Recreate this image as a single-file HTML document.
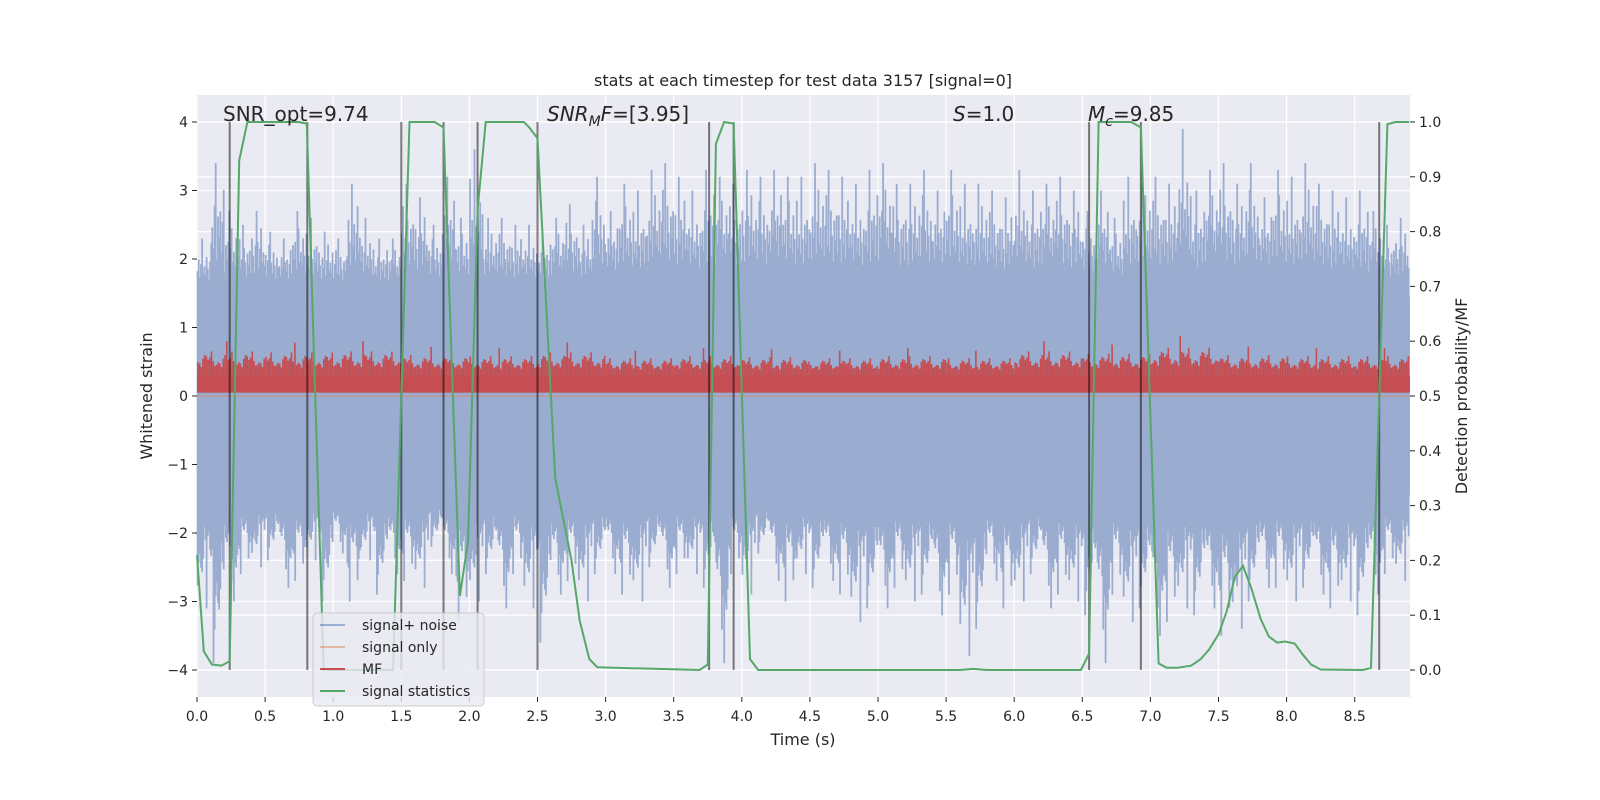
<!DOCTYPE html>
<html><head><meta charset="utf-8"><style>
html,body{margin:0;padding:0;background:#fff;}
svg{display:block;font-family:"DejaVu Sans","Liberation Sans",sans-serif;}
</style></head><body>
<svg id="chart" width="1600" height="800" viewBox="0 0 1600 800" xmlns="http://www.w3.org/2000/svg">
<rect x="0" y="0" width="1600" height="800" fill="#ffffff"/>
<rect x="197" y="95" width="1213" height="602" fill="#eaeaf2"/>
<g id="grid"></g>
<g id="noise"></g>
<g id="mf"></g>
<line id="sigonly" stroke="#dd8452" stroke-opacity="0.5" stroke-width="1.5"/>
<g id="vlines"></g>
<polyline id="stat" fill="none" stroke="#55a868" stroke-width="2"/>
<g id="axes"></g>
<text x="803" y="86" text-anchor="middle" font-size="16" fill="#262626">stats at each timestep for test data 3157 [signal=0]</text>
<text x="223" y="121" font-size="20" fill="#262626">SNR_opt=9.74</text>
<text x="547" y="121" font-size="20" fill="#262626"><tspan font-style="italic">SNR</tspan><tspan font-style="italic" font-size="14" dy="5">M</tspan><tspan font-style="italic" dy="-5">F</tspan>=[3.95]</text>
<text x="953" y="121" font-size="20" fill="#262626"><tspan font-style="italic">S</tspan>=1.0</text>
<text x="1088" y="121" font-size="20" fill="#262626"><tspan font-style="italic">M</tspan><tspan font-style="italic" font-size="14" dy="5">c</tspan><tspan dy="-5">=9.85</tspan></text>
<text x="803" y="745" text-anchor="middle" font-size="16" fill="#262626">Time (s)</text>
<text transform="translate(152,396) rotate(-90)" text-anchor="middle" font-size="16" fill="#262626">Whitened strain</text>
<text transform="translate(1467,396) rotate(-90)" text-anchor="middle" font-size="16" fill="#262626">Detection probability/MF</text>
<g>
<rect x="313" y="613" width="171" height="93" rx="4" fill="#eaeaf2" fill-opacity="0.8" stroke="#cccccc"/>
<line x1="320" y1="625" x2="345" y2="625" stroke="#4c72b0" stroke-opacity="0.5" stroke-width="2"/>
<text x="362" y="630" font-size="14" fill="#262626">signal+ noise</text>
<line x1="320" y1="647" x2="345" y2="647" stroke="#dd8452" stroke-opacity="0.5" stroke-width="2"/>
<text x="362" y="652" font-size="14" fill="#262626">signal only</text>
<line x1="320" y1="669" x2="345" y2="669" stroke="#c44e52" stroke-width="2"/>
<text x="362" y="674" font-size="14" fill="#262626">MF</text>
<line x1="320" y1="691" x2="345" y2="691" stroke="#55a868" stroke-width="2"/>
<text x="362" y="696" font-size="14" fill="#262626">signal statistics</text>
</g>
</svg>
<script>
// ---- data ----
const binStart = 0.0;
const binWidth = 0.1;
const noiseHi = [2.3,3.4,2.7,2.5,2.7,2.4,2.3,2.7,2.6,2.4,2.3,3.1,2.6,2.3,2.3,3.1,2.9,2.5,3.2,2.6,3.6,2.6,2.6,2.5,2.5,2.4,2.6,2.8,2.5,3.2,2.7,3.1,3.0,3.3,3.4,3.2,3.0,3.3,3.2,3.1,3.3,3.2,3.3,3.2,3.2,3.4,3.3,3.2,3.1,3.3,3.4,3.1,3.1,3.3,3.0,3.3,3.1,3.1,3.0,2.9,3.3,3.0,3.1,3.2,3.0,2.7,3.0,2.6,3.2,3.3,3.2,3.1,3.9,3.0,3.3,3.4,3.1,3.4,2.9,3.3,3.2,3.4,3.1,3.0,2.9,3.0,2.7,2.5,2.6];
const noiseLo = [-3.1,-3.9,-3.0,-2.6,-2.5,-2.4,-2.8,-2.7,-2.4,-3.0,-2.3,-3.0,-2.4,-2.9,-2.6,-2.7,-2.8,-2.2,-2.6,-3.3,-3.0,-2.6,-3.1,-2.6,-3.1,-3.6,-2.9,-2.7,-3.0,-2.6,-2.6,-2.9,-3.0,-2.5,-2.8,-2.6,-2.6,-2.8,-3.9,-2.6,-2.9,-2.3,-2.7,-3.0,-2.6,-2.8,-2.7,-2.9,-3.3,-3.1,-3.1,-2.8,-3.0,-2.9,-3.2,-2.9,-3.8,-3.4,-2.7,-3.1,-3.0,-2.6,-3.1,-2.9,-3.0,-3.2,-3.9,-2.9,-3.3,-3.1,-3.5,-3.3,-3.1,-3.2,-3.1,-3.5,-3.4,-3.0,-2.8,-2.8,-3.0,-2.8,-2.9,-3.1,-3.0,-3.2,-2.9,-2.6,-2.7];
const mfBinWidth = 0.5;
const mfPeak = [0.80,0.78,0.80,0.72,0.70,0.78,0.66,0.70,0.68,0.66,0.70,0.66,0.80,0.75,0.88,0.72,0.70,0.70];
const statT = [0,0.05,0.11,0.18,0.24,0.31,0.37,0.745,0.806,0.93,1.44,1.56,1.745,1.81,1.93,1.99,2.06,2.12,2.40,2.44,2.50,2.63,2.75,2.81,2.88,2.94,3.69,3.75,3.81,3.87,3.94,4.06,4.12,5.6,5.7,5.8,6.49,6.55,6.62,6.86,6.93,7.06,7.12,7.2,7.30,7.37,7.43,7.5,7.56,7.62,7.68,7.74,7.81,7.87,7.93,7.99,8.06,8.12,8.18,8.25,8.56,8.62,8.74,8.8,8.9];
const statP = [0.21,0.034,0.01,0.008,0.016,0.93,1.0,1.0,0.997,0.0,0.0,1.0,1.0,0.99,0.135,0.235,0.84,1.0,1.0,0.99,0.97,0.35,0.2,0.09,0.02,0.005,0.0,0.01,0.96,1.0,0.997,0.02,0.0,0.0,0.002,0.0,0.0,0.03,1.0,1.0,0.99,0.012,0.004,0.004,0.008,0.02,0.037,0.065,0.107,0.17,0.19,0.15,0.093,0.061,0.05,0.052,0.048,0.028,0.01,0.001,0.0,0.004,0.996,1.0,1.0];
const eventT = [0.24,0.81,1.50,1.81,2.06,2.50,3.76,3.94,6.55,6.93,8.68];
const xTicks = [0,0.5,1,1.5,2,2.5,3,3.5,4,4.5,5,5.5,6,6.5,7,7.5,8,8.5];
const xTickLabels = ["0.0","0.5","1.0","1.5","2.0","2.5","3.0","3.5","4.0","4.5","5.0","5.5","6.0","6.5","7.0","7.5","8.0","8.5"];
const yTicks = [-4,-3,-2,-1,0,1,2,3,4];
const yTickLabels = ["\u22124","\u22123","\u22122","\u22121","0","1","2","3","4"];
const y2Ticks = [0,0.1,0.2,0.3,0.4,0.5,0.6,0.7,0.8,0.9,1.0];
const y2TickLabels = ["0.0","0.1","0.2","0.3","0.4","0.5","0.6","0.7","0.8","0.9","1.0"];

// ---- scales ----
const L=197,R=1410,T=95,B=697;
const X = t => 197 + t*136.2;
const Y = v => 396 - v*68.5;
const Y2 = p => 670 - p*548;
const NS="http://www.w3.org/2000/svg";
function mk(tag, parent, attrs){const e=document.createElementNS(NS,tag);for(const k in attrs)e.setAttribute(k,attrs[k]);parent.appendChild(e);return e;}

// grid
const grid=document.getElementById('grid');
xTicks.forEach(t=>{const g=mk('line',grid,{x1:X(t),x2:X(t),y1:T,y2:B,stroke:'#fff','stroke-width':1.2});

});
yTicks.forEach(v=>{const g=mk('line',grid,{x1:L,x2:R,y1:Y(v),y2:Y(v),stroke:'#fff','stroke-width':1.2});

});
y2Ticks.forEach(p=>{const g=mk('line',grid,{x1:L,x2:R,y1:Y2(p),y2:Y2(p),stroke:'#fff','stroke-width':1.2});

});

// noise
const noise=document.getElementById('noise');
const pat=[0.55,0.8,0.4,0.7,1.0,0.5,0.65,0.45,0.85,0.6,0.35,0.75];
const core=1.45;
const band=mk('rect',noise,{x:L,y:Y(core),width:R-L,height:Y(-core)-Y(core),fill:'#9aacd0'});


let d='';
noiseHi.forEach((hi,i)=>{
  const t0=binStart+i*binWidth, lo=noiseLo[i];
  const n=pat.length;
  for(let k=0;k<n;k++){
    const t=t0+binWidth*(k+0.5)/n; if(X(t)>R) continue;
    const f=pat[(k+i*5)%n], g=pat[(k*7+i*3+4)%n];
    const h=(k===4)?hi:core+(hi-core)*f*0.8;
    const l=(k===(i%2?2:8))?lo:-core+(lo+core)*g*0.8;
    d+=`M${X(t).toFixed(1)} ${Y(h).toFixed(1)}V${Y(l).toFixed(1)}`;
  }
});
const np=mk('path',noise,{d:d,stroke:'#9aacd0','stroke-width':1.8,fill:'none'});



// MF (left-axis units)
const mf=document.getElementById('mf');
const mfBase=0.05, mfCore=0.3;
const mfr=mk('rect',mf,{x:L,y:Y(mfCore),width:R-L,height:Y(mfBase)-Y(mfCore),fill:'#c44e52'});


let md='';
mfPeak.forEach((pk,i)=>{
  const n=40;
  for(let k=0;k<n;k++){
    const t=i*mfBinWidth+mfBinWidth*(k+0.5)/n; if(X(t)>R) continue;
    const f=pat[(k*5+i)%pat.length];
    const h=(k===17)?pk:mfCore+(pk-mfCore)*f*0.7;
    md+=`M${X(t).toFixed(1)} ${Y(h).toFixed(1)}V${Y(mfBase).toFixed(1)}`;
  }
});
const mp=mk('path',mf,{d:md,stroke:'#c44e52','stroke-width':1.6,fill:'none'});



// signal only
const so=document.getElementById('sigonly');
so.setAttribute('x1',L);so.setAttribute('x2',R);so.setAttribute('y1',Y(0));so.setAttribute('y2',Y(0));

// event markers
const vl=document.getElementById('vlines');
eventT.forEach(t=>{const l=mk('line',vl,{x1:X(t),x2:X(t),y1:Y(4),y2:Y(-4),stroke:'#000','stroke-opacity':0.5,'stroke-width':2});

});

// stats
document.getElementById('stat').setAttribute('points',statT.map((t,i)=>X(t).toFixed(1)+','+Y2(statP[i]).toFixed(1)).join(' '));

// axes ticks
const ax=document.getElementById('axes');
xTicks.forEach((t,i)=>{
  mk('line',ax,{x1:X(t),x2:X(t),y1:B,y2:B+5,stroke:'#262626'});
  const tx=mk('text',ax,{x:X(t),y:B+24,'text-anchor':'middle','font-size':14,fill:'#262626'});tx.textContent=xTickLabels[i];
  
  
});
yTicks.forEach((v,i)=>{
  mk('line',ax,{x1:L-5,x2:L,y1:Y(v),y2:Y(v),stroke:'#262626'});
  const tx=mk('text',ax,{x:L-9,y:Y(v)+5,'text-anchor':'end','font-size':14,fill:'#262626'});tx.textContent=yTickLabels[i];
  
  
});
y2Ticks.forEach((p,i)=>{
  mk('line',ax,{x1:R,x2:R+5,y1:Y2(p),y2:Y2(p),stroke:'#262626'});
  const tx=mk('text',ax,{x:R+9,y:Y2(p)+5,'text-anchor':'start','font-size':14,fill:'#262626'});tx.textContent=y2TickLabels[i];
  
  
});
</script>
</body></html>
